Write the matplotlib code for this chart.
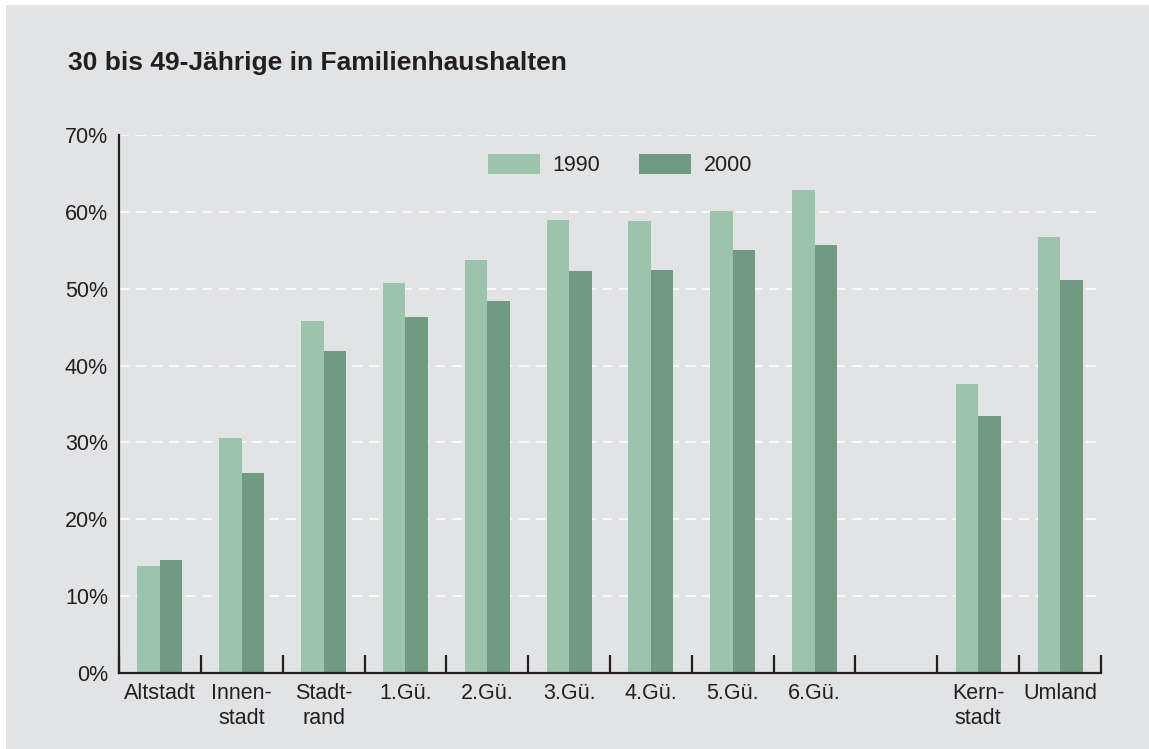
import matplotlib.pyplot as plt
from matplotlib.patches import Rectangle, Patch
import numpy as np

plt.rcParams['font.family'] = ['Liberation Sans', 'DejaVu Sans']

# data
categories = ["Altstadt", "Innen-\nstadt", "Stadt-\nrand", "1.Gü.", "2.Gü.", "3.Gü.",
              "4.Gü.", "5.Gü.", "6.Gü.", "", "Kern-\nstadt", "Umland"]
v1990 = [13.9, 30.6, 45.8, 50.7, 53.7, 59.0, 58.8, 60.1, 62.9, np.nan, 37.6, 56.7]
v2000 = [14.7, 26.0, 41.9, 46.3, 48.4, 52.3, 52.5, 55.1, 55.7, np.nan, 33.4, 51.1]
series_labels = ["1990", "2000"]
yticks = [0, 10, 20, 30, 40, 50, 60, 70]

C1990 = "#9cc4ad"
C2000 = "#719b80"
BG = "#e2e3e5"
DARK = "#231f20"

W, H = 1149, 749
fig = plt.figure(figsize=(W / 100, H / 100), dpi=100, facecolor="white")
fig.patches.append(Rectangle((6 / W, 0), 1 - 6 / W, 1 - 5 / H, transform=fig.transFigure,
                             facecolor=BG, edgecolor="none", zorder=-10))

ax = fig.add_axes([119 / W, 1 - 673 / H, (1101 - 119) / W, (673 - 135) / H])
ax.set_facecolor("none")

x = np.arange(len(categories))
bw = 0.275
ax.bar(x - bw / 2, v1990, bw, color=C1990, zorder=2)
ax.bar(x + bw / 2, v2000, bw, color=C2000, zorder=2)

ax.set_xlim(-0.5, len(categories) - 0.5)
ax.set_ylim(0, 70)

for s in ["top", "right"]:
    ax.spines[s].set_visible(False)
for s in ["left", "bottom"]:
    ax.spines[s].set_color(DARK)
    ax.spines[s].set_linewidth(1.6)

ax.set_yticks(yticks)
ax.set_yticklabels([f"{t}%" for t in yticks])
ax.tick_params(axis="y", length=0, pad=8, labelsize=15.5, labelcolor=DARK)

ax.set_xticks(x)
ax.set_xticklabels(categories, linespacing=1.25)
ax.tick_params(axis="x", which="major", length=0, pad=7, labelsize=15.5, labelcolor=DARK)
ax.set_xticks(np.arange(-0.5, len(categories)), minor=True)
ax.tick_params(axis="x", which="minor", direction="in", length=13, width=1.6, color=DARK)
for lab in ax.get_xticklabels():
    lab.set_verticalalignment("top")

for t in yticks[1:]:
    ax.axhline(t, color="white", lw=1.2, dashes=(6, 4), zorder=1)

handles = [Patch(facecolor=C1990, edgecolor="none"), Patch(facecolor=C2000, edgecolor="none")]
ax.legend(handles, series_labels, ncol=2, loc="center left",
          bbox_to_anchor=(488 / W, 1 - 165 / H), bbox_transform=fig.transFigure,
          frameon=False, fontsize=15.5, handlelength=2.4, handleheight=1.1,
          handletextpad=0.6, columnspacing=1.8, borderpad=0, borderaxespad=0,
          labelcolor=DARK)

fig.text(68 / W, 1 - 70 / H, "30 bis 49-Jährige in Familienhaushalten", fontsize=19,
         fontweight="bold", color=DARK, va="baseline", ha="left")

fig.savefig("out.png", dpi=100, facecolor=fig.get_facecolor())
